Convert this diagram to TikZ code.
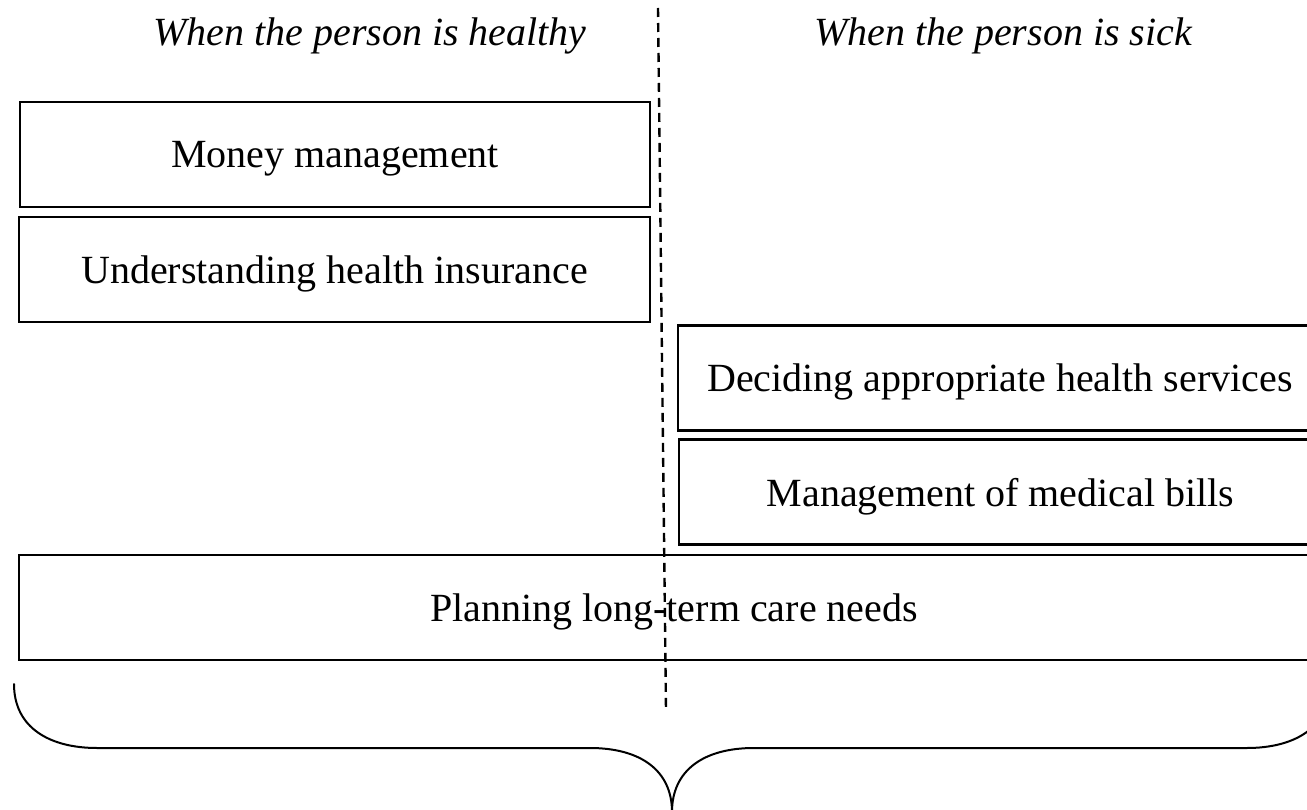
\documentclass[tikz,border=0pt]{standalone}
\usepackage{fontspec}
\setmainfont{Liberation Serif}
\usepackage{tikz}
\usetikzlibrary{positioning}

\begin{document}
\begin{tikzpicture}[x=1pt, y=-1pt, font=\fontsize{40}{48}\selectfont,
  every task/.style={draw, line width=2.6pt, inner sep=0pt, text depth=0pt, minimum height=105pt},
  divider/.style={dash pattern=on 9pt off 6pt, line width=2.4pt},
  curly/.style={line width=2pt, line cap=round}]

\clip (0,0) rectangle (1307,810);

% column headings
\foreach \l/\x in {healthy/370, sick/1003}
  \node [font=\fontsize{40}{48}\selectfont\itshape] (head-\l) at (\x,36) {When the person is \l};

% tasks, left column, right column, then the one across both
\foreach \m/\x/\y/\w/\l in {money/335/154.5/630/Money management,
                            insurance/334.5/269.5/631/Understanding health insurance,
                            services/1000/378/644/Deciding appropriate health services,
                            bills/1000.5/492/643/Management of medical bills,
                            care/674/607.5/1310/Planning long-term care needs}
  \node [every task/.try, minimum width=\w pt] (task-\m) at (\x,\y) {\l};

% divider between the columns
\coordinate (div-top) at (658,8);
\coordinate (div-bot) at (666,710);
\draw [divider] (div-top) -- (div-bot);

% brace under everything
\draw [curly] (14,684) .. controls (14,728) and (50,748) .. (97,748) -- (590,748)
  .. controls (640,748) and (672,770) .. (672,812)
  .. controls (672,770) and (704,748) .. (754,748) -- (1247,748)
  .. controls (1294,748) and (1330,728) .. (1330,684);

\end{tikzpicture}
\end{document}
